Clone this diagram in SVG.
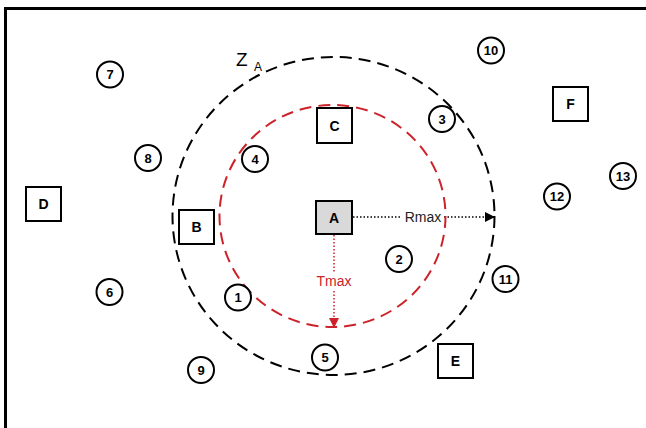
<svg xmlns="http://www.w3.org/2000/svg" width="646" height="428" viewBox="0 0 646 428">
<defs>
<style>
.box{fill:#fff;stroke:#000;stroke-width:2}
.boxA{fill:#d9d9d9;stroke:#000;stroke-width:2}
.num{fill:#fff;stroke:#000;stroke-width:2}
.lbl{font-family:"Liberation Sans",Arial,sans-serif;font-weight:bold;font-size:14px;text-anchor:middle;fill:#000}
.nl{font-family:"Liberation Sans",Arial,sans-serif;font-weight:bold;font-size:13px;text-anchor:middle;fill:#000}
.zone{fill:none;stroke:#000;stroke-width:2;stroke-dasharray:12 7}
.tzone{fill:none;stroke:#cc2229;stroke-width:2;stroke-dasharray:12 7}
.dot{fill:none;stroke-width:1.5;stroke-dasharray:1.5 2}
.t{font-family:"Liberation Sans",Arial,sans-serif;font-size:14px;text-anchor:middle}
</style>
<marker id="ab" markerWidth="10" markerHeight="10" refX="9" refY="5" orient="auto" markerUnits="userSpaceOnUse">
<path d="M0,0 L10,5 L0,10 Z" fill="#000"/>
</marker>
<marker id="ar" markerWidth="10" markerHeight="10" refX="9" refY="5" orient="auto" markerUnits="userSpaceOnUse">
<path d="M0,0 L10,5 L0,10 Z" fill="#cc2229"/>
</marker>
</defs>
<rect width="646" height="428" fill="#fff"/>
<path d="M5.5,428 V8.5 H646" fill="none" stroke="#000" stroke-width="3"/>
<g id="connectors">
<line class="dot" x1="353" y1="217" x2="494" y2="217" stroke="#000" marker-end="url(#ab)"/>
<rect x="402" y="209" width="41" height="16" fill="#fff"/>
<text class="t" x="423" y="222" fill="#222">Rmax</text>
<line class="dot" x1="334" y1="235" x2="334" y2="327" stroke="#cc2229" marker-end="url(#ar)"/>
<rect x="313" y="273" width="42" height="16" fill="#fff"/>
<text class="t" x="334" y="286" fill="#cc2229">Tmax</text>
</g>
<g id="zones">
<ellipse class="zone" cx="333.5" cy="216" rx="161" ry="159"/>
<ellipse class="tzone" cx="332.5" cy="216" rx="113" ry="111"/>
<text x="236" y="66" font-family="Liberation Sans,Arial,sans-serif" font-size="19" fill="#000">Z</text>
<text x="254" y="71" font-family="Liberation Sans,Arial,sans-serif" font-size="12" fill="#000">A</text>
</g>
<g id="node-A"><rect class="boxA" x="316" y="201" width="36" height="33"/><text class="lbl" x="334" y="222.5">A</text></g>
<g id="node-B"><rect class="box" x="179" y="210" width="35" height="34"/><text class="lbl" x="196.5" y="232">B</text></g>
<g id="node-C"><rect class="box" x="317" y="108" width="35" height="35"/><text class="lbl" x="334.5" y="130.5">C</text></g>
<g id="node-D"><rect class="box" x="26" y="187" width="35" height="34"/><text class="lbl" x="43.5" y="209">D</text></g>
<g id="node-E"><rect class="box" x="438" y="344" width="35" height="34"/><text class="lbl" x="455.5" y="366">E</text></g>
<g id="node-F"><rect class="box" x="553" y="87" width="35" height="34"/><text class="lbl" x="570.5" y="109">F</text></g>
<g id="node-1"><circle class="num" cx="238" cy="297.5" r="13"/><text class="nl" x="238" y="302">1</text></g>
<g id="node-2"><circle class="num" cx="399" cy="259" r="13"/><text class="nl" x="399" y="263.5">2</text></g>
<g id="node-3"><circle class="num" cx="442" cy="119" r="13"/><text class="nl" x="442" y="123.5">3</text></g>
<g id="node-4"><circle class="num" cx="255" cy="159" r="13"/><text class="nl" x="255" y="163.5">4</text></g>
<g id="node-5"><circle class="num" cx="325" cy="357.5" r="13"/><text class="nl" x="325" y="362">5</text></g>
<g id="node-6"><circle class="num" cx="109.5" cy="292" r="13"/><text class="nl" x="109.5" y="296.5">6</text></g>
<g id="node-7"><circle class="num" cx="110" cy="74.5" r="13"/><text class="nl" x="110" y="79">7</text></g>
<g id="node-8"><circle class="num" cx="148" cy="158" r="13"/><text class="nl" x="148" y="162.5">8</text></g>
<g id="node-9"><circle class="num" cx="201" cy="370" r="13"/><text class="nl" x="201" y="374.5">9</text></g>
<g id="node-10"><circle class="num" cx="491" cy="50.5" r="13"/><text class="nl" x="491" y="55">10</text></g>
<g id="node-11"><circle class="num" cx="505.5" cy="279" r="13"/><text class="nl" x="505.5" y="283.5">11</text></g>
<g id="node-12"><circle class="num" cx="557" cy="196.5" r="13"/><text class="nl" x="557" y="201">12</text></g>
<g id="node-13"><circle class="num" cx="623" cy="176" r="13"/><text class="nl" x="623" y="180.5">13</text></g>
</svg>
